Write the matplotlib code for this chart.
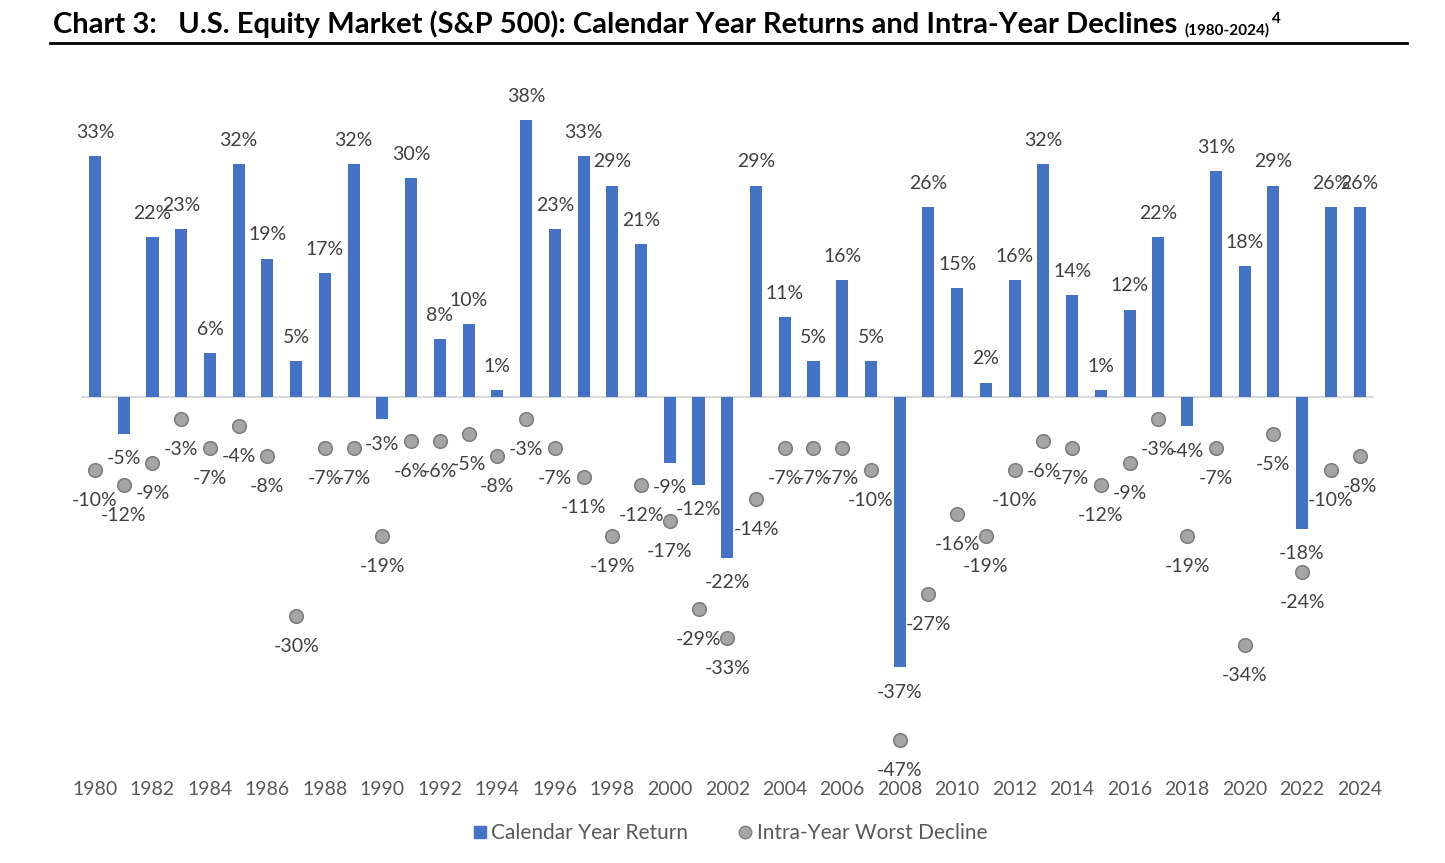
from matplotlib import pyplot as plt
from matplotlib.lines import Line2D

years = list(range(1980, 2025))
annual_return = [33, -5, 22, 23, 6, 32, 19, 5, 17, 32,
                 -3, 30, 8, 10, 1, 38, 23, 33, 29, 21,
                 -9, -12, -22, 29, 11, 5, 16, 5, -37, 26,
                 15, 2, 16, 32, 14, 1, 12, 22, -4, 31,
                 18, 29, -18, 26, 26]
worst_decline = [-10, -12, -9, -3, -7, -4, -8, -30, -7, -7,
                 -19, -6, -6, -5, -8, -3, -7, -11, -19, -12,
                 -17, -29, -33, -14, -7, -7, -7, -10, -47, -27,
                 -16, -19, -10, -6, -7, -12, -9, -3, -19, -7,
                 -34, -5, -24, -10, -8]
tick_years = years[::2]

bar_blue = '#4472C4'
dot_gray = '#A5A5A5'
text_gray = '#404040'
font = 'Lato'

fig = plt.figure(figsize=(14.45, 8.63), dpi=100)
ax = fig.add_axes([0.0558, 0.117, 0.895, 0.761])

ax.bar(years, annual_return, width=0.42, color=bar_blue, zorder=2)
ax.scatter(years, worst_decline, s=95, color=dot_gray, edgecolor='#7F7F7F',
           linewidth=1.2, zorder=3)
ax.axhline(0, color='#D9D9D9', linewidth=1.5, zorder=1)

ax.set_xlim(years[0] - 0.5, years[-1] + 0.5)
ax.set_ylim(-50, 40)

# data labels
for yr, val in zip(years, annual_return):
    offset = 17 if val >= 0 else -18
    ax.annotate(f'{val}%', (yr, val), xytext=(0, offset), textcoords='offset points',
                ha='center', va='center', fontsize=14, color=text_gray, family=font)
for yr, val in zip(years, worst_decline):
    ax.annotate(f'{val}%', (yr, val), xytext=(0, -22), textcoords='offset points',
                ha='center', va='center', fontsize=14, color=text_gray, family=font)

ax.set_xticks(tick_years)
ax.set_xticklabels([str(y) for y in tick_years], fontsize=14, color='#595959', family=font)
ax.tick_params(axis='x', length=0, pad=14)
ax.set_yticks([])
for s in ax.spines.values():
    s.set_visible(False)

# title with small suffix
title = fig.text(53 / 1445, 1 - 24 / 863, 'Chart 3:   U.S. Equity Market (S&P 500): Calendar Year Returns and Intra-Year Declines',
                 fontsize=21, fontweight='bold', family=font, color='black', va='center', ha='left')
renderer = fig.canvas.get_renderer()
bb = title.get_window_extent(renderer)
x_end = bb.x1 / fig.bbox.width
sub = fig.text(x_end + 0.005, 1 - 30 / 863, '(1980-2024)', fontsize=11, fontweight='bold',
               family=font, va='center', ha='left')
bb2 = sub.get_window_extent(renderer)
fig.text(bb2.x1 / fig.bbox.width + 0.002, 1 - 19 / 863, '4', fontsize=11, fontweight='bold',
         family=font, va='center', ha='left')
fig.add_artist(Line2D([50 / 1445, 1407 / 1445], [1 - 43 / 863, 1 - 43 / 863],
                      color='black', linewidth=2))

handles = [Line2D([], [], marker='s', linestyle='none', color=bar_blue, markersize=9),
           Line2D([], [], marker='o', linestyle='none', color=dot_gray,
                  markeredgecolor='#7F7F7F', markersize=9)]
fig.legend(handles, ['Calendar Year Return', 'Intra-Year Worst Decline'],
           loc='center', bbox_to_anchor=(0.505, 1 - 833 / 863), ncol=2, frameon=False,
           handlelength=0.7, handletextpad=0.2, columnspacing=2.4,
           prop={'family': font, 'size': 15}, labelcolor='#595959')

fig.savefig('out.png', dpi=100)
